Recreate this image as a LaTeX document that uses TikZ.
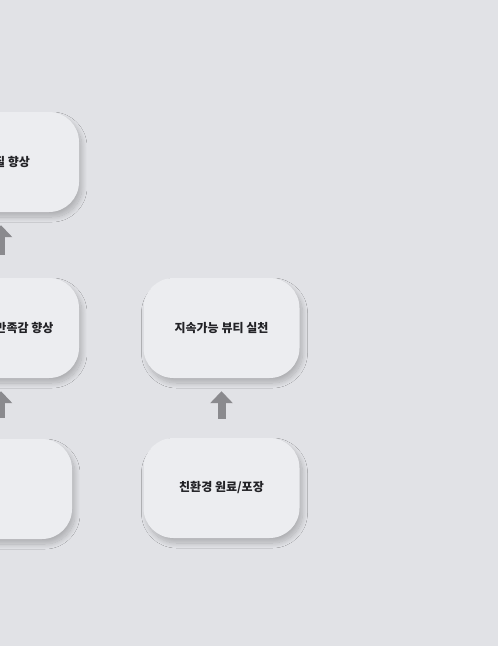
\documentclass[tikz,border=0pt]{standalone}
\usepackage{fontspec}
\setmainfont{Noto Sans CJK KR}
\usetikzlibrary{arrows.meta,shadows.blur}

\definecolor{bgcol}{HTML}{E1E2E6}
\definecolor{boxcol}{HTML}{ECEDF0}
\definecolor{arrcol}{HTML}{8A8A8E}
\definecolor{txtcol}{HTML}{222226}

\begin{document}
\begin{tikzpicture}[
    x=1pt,
    y=-1pt,
    stepbox/.style={rounded corners=30pt, fill=boxcol, text=txtcol,
      minimum width=156pt, minimum height=100pt,
      font=\fontsize{12}{14}\selectfont\bfseries,
      blur shadow={shadow xshift=3pt, shadow yshift=-5pt,
        shadow blur radius=5pt, shadow blur steps=14, shadow opacity=22}},
    uparrow/.style={draw=arrcol, line width=8pt,
      -{Triangle[width=22pt,length=12pt]}, shorten >=13pt}]

    % Background
    \fill[bgcol] (0,0) rectangle (498,646);
    \useasboundingbox (0,0) rectangle (498,646);

    % Left column
    \node[stepbox] (quality) at (1,162) {고품질 향상};
    \node[stepbox] (satisfy) at (1,328) {소비자의 만족감 향상};
    \node[stepbox, minimum width=204pt] (test) at (-30,489) {효능 테스트};

    % Right column
    \node[stepbox] (green) at (221.5,328) {지속가능 뷰티 실천};
    \node[stepbox] (eco) at (221.5,488) {친환경 원료/포장};

    % Arrows
    \draw[uparrow, shorten <=23pt] (satisfy) -- (quality);
    \draw[uparrow, shorten <=21pt] (test.north -| satisfy.south) -- (satisfy);
    \draw[uparrow, shorten <=19pt] (eco) -- (green);
  \end{tikzpicture}
\end{document}
